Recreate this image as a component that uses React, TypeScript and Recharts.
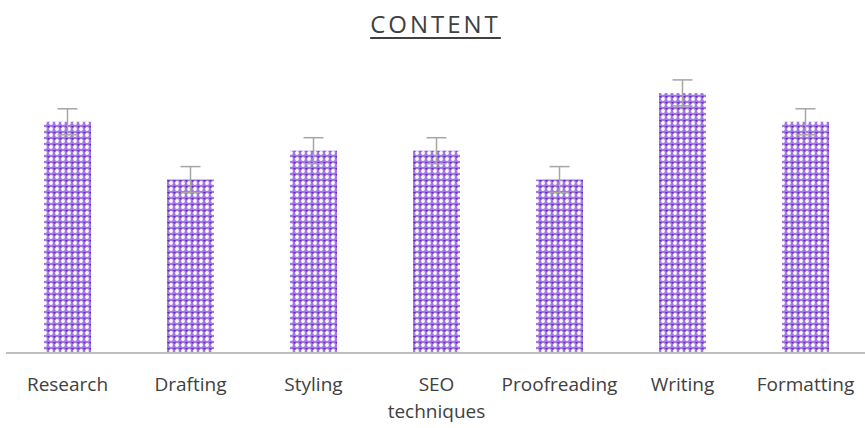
import { useEffect } from "react";
import { BarChart, Bar, XAxis, YAxis, ErrorBar } from "recharts";

const categories = ["Research", "Drafting", "Styling", "SEO techniques", "Proofreading", "Writing", "Formatting"];
const scores = [8, 6, 7, 7, 6, 9, 8];
const errors = [0.45, 0.45, 0.45, 0.45, 0.45, 0.45, 0.45];

const data = categories.map((name, i) => ({ name, score: scores[i], err: errors[i] }));

function Tick(props: any) {
  const { x, y, payload } = props;
  const words: string[] = String(payload.value).includes(" ") ? String(payload.value).split(" ") : [payload.value];
  return (
    <g transform={`translate(${x},${y})`}>
      {words.map((w, i) => (
        <text
          key={i}
          x={0}
          y={30 + i * 27}
          textAnchor="middle"
          fill="#404040"
          fontSize={19}
          fontFamily="'Open Sans', sans-serif"
        >
          {w}
        </text>
      ))}
    </g>
  );
}

export default function App() {
  useEffect(() => {
    document.documentElement.style.overflow = "hidden";
    document.body.style.margin = "0";
  }, []);

  return (
    <div style={{ width: 865, height: 428, overflow: "hidden", position: "relative", background: "#fff" }}>
      <div
        style={{
          position: "absolute",
          top: 7,
          left: 0,
          width: 865,
          textAlign: "center",
          fontFamily: "'Open Sans', sans-serif",
          fontSize: 24,
          letterSpacing: 3,
          color: "#404040",
          textDecoration: "underline",
          textUnderlineOffset: 4,
          paddingLeft: 3,
        }}
      >
        CONTENT
      </div>
      <BarChart width={867} height={428} data={data} margin={{ top: 64, right: 0, bottom: 0, left: 6 }} barCategoryGap={0}>
        <defs>
          <pattern id="lattice" width="6" height="6" patternUnits="userSpaceOnUse">
            <rect width="6" height="6" fill="#a07ae2" />
            <circle cx="3" cy="3" r="1.9" fill="#ffffff" />
            <rect x="0" y="0" width="1.5" height="1.5" fill="#6420c0" />
            <rect x="5" y="0" width="1" height="1" fill="#7a3ad0" />
          </pattern>
        </defs>
        <XAxis
          dataKey="name"
          axisLine={{ stroke: "#bfbfbf", strokeWidth: 2 }}
          tickLine={false}
          tick={<Tick />}
          interval={0}
          height={75}
        />
        <YAxis hide domain={[0, 10]} />
        <Bar dataKey="score" fill="url(#lattice)" barSize={47} isAnimationActive={false}>
          <ErrorBar dataKey="err" stroke="#a6a6a6" strokeWidth={1.5} width={10} direction="y" />
        </Bar>
      </BarChart>
    </div>
  );
}
